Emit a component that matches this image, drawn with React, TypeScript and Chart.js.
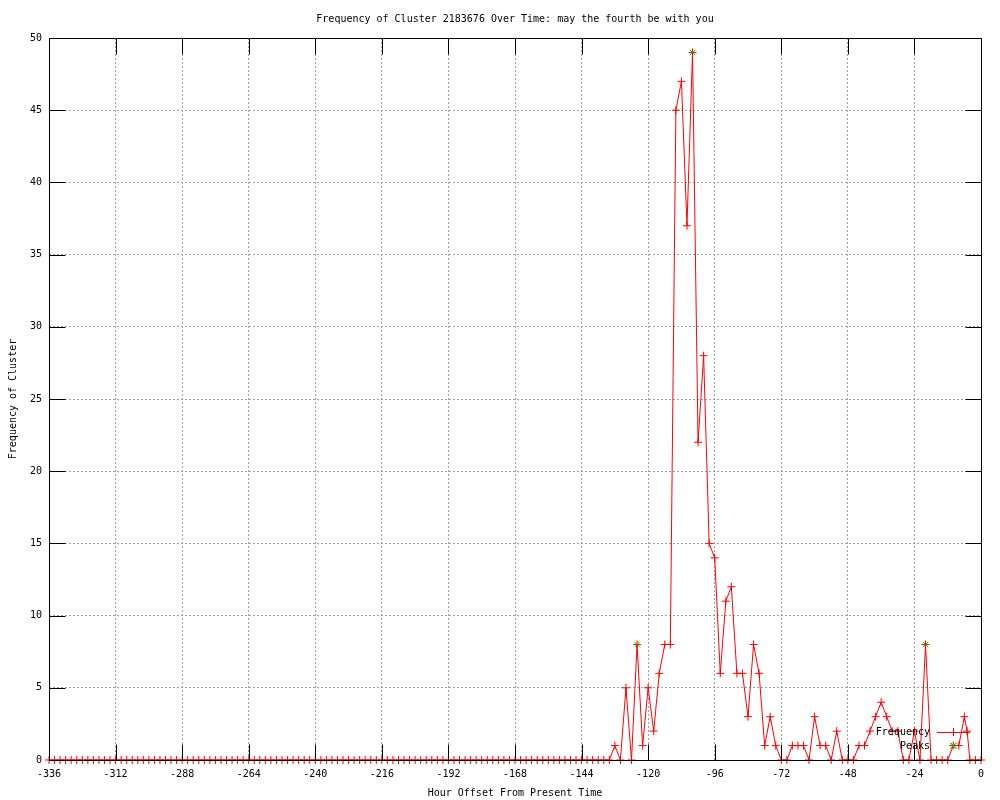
import React, { useEffect, useRef } from "react";
import { Chart, registerables } from "chart.js";

Chart.register(...registerables);

const chartTitle = "Frequency of Cluster 2183676 Over Time: may the fourth be with you";
const xAxisTitle = "Hour Offset From Present Time";
const yAxisTitle = "Frequency of Cluster";
const seriesLabel = "Frequency";
const peaksLabel = "Peaks";

const xTickValues = [-336, -312, -288, -264, -240, -216, -192, -168, -144, -120, -96, -72, -48, -24, 0];
const yTickValues = [0, 5, 10, 15, 20, 25, 30, 35, 40, 45, 50];

const hours = [
  -336, -334, -332, -330, -328, -326, -324, -322, -320, -318, -316, -314,
  -312, -310, -308, -306, -304, -302, -300, -298, -296, -294, -292, -290,
  -288, -286, -284, -282, -280, -278, -276, -274, -272, -270, -268, -266,
  -264, -262, -260, -258, -256, -254, -252, -250, -248, -246, -244, -242,
  -240, -238, -236, -234, -232, -230, -228, -226, -224, -222, -220, -218,
  -216, -214, -212, -210, -208, -206, -204, -202, -200, -198, -196, -194,
  -192, -190, -188, -186, -184, -182, -180, -178, -176, -174, -172, -170,
  -168, -166, -164, -162, -160, -158, -156, -154, -152, -150, -148, -146,
  -144, -142, -140, -138, -136, -134,
  -132, -130, -128, -126, -124, -122, -120, -118, -116, -114, -112, -110,
  -108, -106, -104, -102, -100, -98, -96, -94, -92, -90, -88, -86,
  -84, -82, -80, -78, -76, -74, -72, -70, -68, -66, -64, -62,
  -60, -58, -56, -54, -52, -50, -48, -46, -44, -42, -40, -38,
  -36, -34, -32, -30, -28, -26, -24, -22, -20, -18, -16, -14,
  -12, -10, -8, -6, -5, -4, -2, 0,
];

const frequency = [
  0, 0, 0, 0, 0, 0, 0, 0, 0, 0, 0, 0,
  0, 0, 0, 0, 0, 0, 0, 0, 0, 0, 0, 0,
  0, 0, 0, 0, 0, 0, 0, 0, 0, 0, 0, 0,
  0, 0, 0, 0, 0, 0, 0, 0, 0, 0, 0, 0,
  0, 0, 0, 0, 0, 0, 0, 0, 0, 0, 0, 0,
  0, 0, 0, 0, 0, 0, 0, 0, 0, 0, 0, 0,
  0, 0, 0, 0, 0, 0, 0, 0, 0, 0, 0, 0,
  0, 0, 0, 0, 0, 0, 0, 0, 0, 0, 0, 0,
  0, 0, 0, 0, 0, 0,
  1, 0, 5, 0, 8, 1, 5, 2, 6, 8, 8, 45,
  47, 37, 49, 22, 28, 15, 14, 6, 11, 12, 6, 6,
  3, 8, 6, 1, 3, 1, 0, 0, 1, 1, 1, 0,
  3, 1, 1, 0, 2, 0, 0, 0, 1, 1, 2, 3,
  4, 3, 2, 2, 0, 0, 2, 0, 8, 0, 0, 0,
  0, 1, 1, 3, 2, 0, 0, 0,
];

const peakHours = [-124, -104, -20, -10];
const peakValues = [8, 49, 8, 1];

const FONT = '"DejaVu Sans Mono", "Liberation Mono", monospace';
const RED = "#ff0000";
const GREEN = "#00c000";

const framePlugin = {
  id: "gnuplotFrame",
  afterDatasetsDraw(chart: any) {
    const { ctx, chartArea: a, scales } = chart;
    const L = Math.round(a.left) + 0.5;
    const R = Math.round(a.right) + 0.5;
    const T = Math.round(a.top) + 0.5;
    const B = Math.round(a.bottom) + 0.5;
    const tl = 16;
    ctx.save();
    ctx.strokeStyle = "#000";
    ctx.lineWidth = 1;
    ctx.setLineDash([]);
    ctx.beginPath();
    ctx.rect(L, T, R - L, B - T);
    scales.x.ticks.forEach((t: any) => {
      const x = Math.round(scales.x.getPixelForValue(t.value)) + 0.5;
      ctx.moveTo(x, B);
      ctx.lineTo(x, B - tl);
      ctx.moveTo(x, T);
      ctx.lineTo(x, T + tl);
    });
    scales.y.ticks.forEach((t: any) => {
      const y = Math.round(scales.y.getPixelForValue(t.value)) + 0.5;
      ctx.moveTo(L, y);
      ctx.lineTo(L + tl, y);
      ctx.moveTo(R, y);
      ctx.lineTo(R - tl, y);
    });
    ctx.stroke();
    ctx.restore();
  },
  afterDraw(chart: any) {
    const { ctx, chartArea: a } = chart;
    const textRight = a.right - 51;
    const sampleL = a.right - 44;
    const sampleR = a.right - 11;
    const sampleMid = (sampleL + sampleR) / 2;
    const row1 = a.bottom - 28;
    const row2 = a.bottom - 14;
    ctx.save();
    ctx.font = "10px " + FONT;
    ctx.fillStyle = "#000";
    ctx.textAlign = "right";
    ctx.textBaseline = "middle";
    ctx.fillText(seriesLabel, textRight, row1);
    ctx.fillText(peaksLabel, textRight, row2);
    ctx.strokeStyle = RED;
    ctx.lineWidth = 1;
    ctx.beginPath();
    ctx.moveTo(sampleL, row1 + 0.5);
    ctx.lineTo(sampleR, row1 + 0.5);
    ctx.moveTo(sampleMid, row1 - 4);
    ctx.lineTo(sampleMid, row1 + 4);
    ctx.stroke();
    ctx.strokeStyle = GREEN;
    ctx.beginPath();
    ctx.moveTo(sampleMid - 3, row2 - 3);
    ctx.lineTo(sampleMid + 3, row2 + 3);
    ctx.moveTo(sampleMid - 3, row2 + 3);
    ctx.lineTo(sampleMid + 3, row2 - 3);
    ctx.stroke();
    ctx.restore();
  },
};

export default function App() {
  const canvasRef = useRef<HTMLCanvasElement | null>(null);

  useEffect(() => {
    document.body.style.margin = "0";
    const canvas = canvasRef.current;
    if (!canvas) return;

    const freqPoints = hours.map((h, i) => ({ x: h, y: frequency[i] }));
    const peakPoints = peakHours.map((h, i) => ({ x: h, y: peakValues[i] }));

    const chart = new Chart(canvas, {
      type: "line",
      data: {
        datasets: [
          {
            label: peaksLabel,
            data: peakPoints,
            showLine: false,
            borderColor: GREEN,
            backgroundColor: GREEN,
            pointStyle: "crossRot",
            pointRadius: 4,
            pointBorderWidth: 1,
            clip: false as any,
          },
          {
            label: seriesLabel,
            data: freqPoints,
            borderColor: RED,
            backgroundColor: RED,
            borderWidth: 1,
            tension: 0,
            pointStyle: "cross",
            pointRadius: 4,
            pointBorderWidth: 1,
            clip: false as any,
          },
        ],
      },
      options: {
        responsive: false,
        animation: false,
        events: [],
        layout: { padding: { left: 0, right: 19, top: 0, bottom: 0 } },
        plugins: {
          legend: { display: false },
          tooltip: { enabled: false },
          title: {
            display: true,
            text: chartTitle,
            fullSize: false,
            color: "#000",
            font: { family: FONT, size: 10, weight: "normal" },
            padding: { top: 13, bottom: 13 },
          },
        },
        scales: {
          x: {
            type: "linear",
            min: -336,
            max: 0,
            afterBuildTicks: (scale: any) => {
              scale.ticks = xTickValues.map((v) => ({ value: v }));
            },
            afterFit: (scale: any) => {
              scale.height = 40;
            },
            ticks: {
              autoSkip: false,
              maxRotation: 0,
              padding: 8,
              color: "#000",
              font: { family: FONT, size: 10 },
            },
            grid: {
              color: "#a0a0a0",
              lineWidth: 1,
              drawTicks: false,
              borderDash: [2, 2],
            } as any,
            border: { display: false, dash: [2, 2] },
            title: {
              display: true,
              text: xAxisTitle,
              color: "#000",
              font: { family: FONT, size: 10 },
              padding: { top: 0, bottom: 1 },
            },
          },
          y: {
            type: "linear",
            min: 0,
            max: 50,
            afterBuildTicks: (scale: any) => {
              scale.ticks = yTickValues.map((v) => ({ value: v }));
            },
            afterFit: (scale: any) => {
              scale.width = 49;
            },
            ticks: {
              autoSkip: false,
              padding: 7,
              color: "#000",
              font: { family: FONT, size: 10 },
            },
            grid: {
              color: "#a0a0a0",
              lineWidth: 1,
              drawTicks: false,
              borderDash: [2, 2],
            } as any,
            border: { display: false, dash: [2, 2] },
            title: {
              display: true,
              text: yAxisTitle,
              color: "#000",
              font: { family: FONT, size: 10 },
              padding: { top: 7, bottom: 0 },
            },
          },
        },
      },
      plugins: [framePlugin],
    });

    return () => {
      chart.destroy();
    };
  }, []);

  return (
    <div style={{ width: 1000, height: 800 }}>
      <canvas ref={canvasRef} width={1000} height={800} style={{ display: "block" }} />
    </div>
  );
}
